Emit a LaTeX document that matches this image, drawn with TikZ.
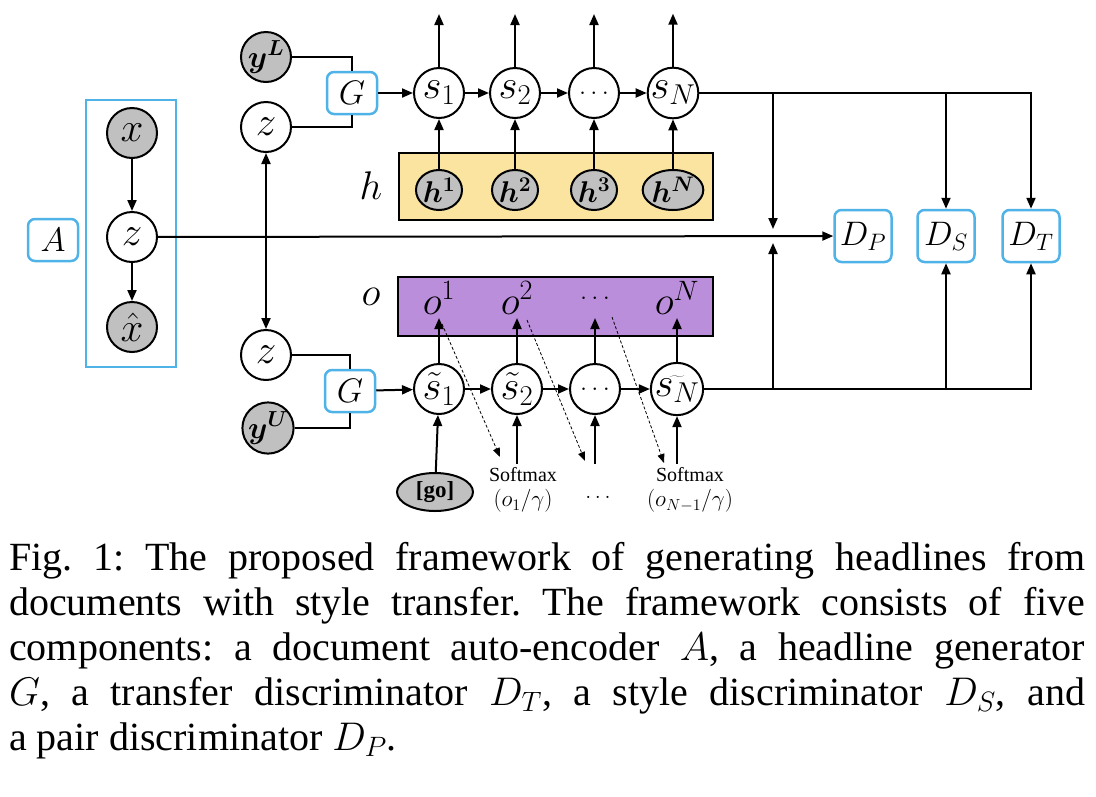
\RequirePackage{fix-cm}
\documentclass[tikz,border=0pt]{standalone}
\usepackage{fontspec}
\usepackage{bm}
\setmainfont{Liberation Serif}
\usetikzlibrary{arrows.meta,shapes.geometric}
\definecolor{modblue}{RGB}{79,179,232}
\definecolor{hyellow}{RGB}{250,228,160}
\definecolor{opurple}{RGB}{187,142,219}
\definecolor{obsgray}{RGB}{192,192,192}
\newcommand{\sdots}{{\fontsize{26}{28}\selectfont$\ldots$}}
\tikzset{
  latent/.style={circle,draw,line width=2pt,fill=white,minimum size=50pt,inner sep=0pt,font=\fontsize{41}{43}\selectfont},
  obs/.style={latent,fill=obsgray},
  module/.style={draw=modblue,line width=2.5pt,rounded corners=7pt,fill=white,minimum width=50pt,minimum height=42pt,inner sep=0pt,font=\fontsize{34}{36}\selectfont},
  hnode/.style={ellipse,draw,line width=2pt,fill=obsgray,minimum width=46pt,minimum height=40pt,inner sep=0pt,font=\fontsize{30}{32}\selectfont},
  lbl/.style={inner sep=1pt,font=\fontsize{40}{42}\selectfont},
  ln/.style={line width=2pt},
  arr/.style={line width=2pt,-{Triangle[length=11pt,width=9pt]}},
  darr/.style={line width=2pt,{Triangle[length=11pt,width=9pt]}-{Triangle[length=11pt,width=9pt]}},
  dasharr/.style={line width=0.8pt,densely dashed,-{Triangle[length=9pt,width=7pt]}},
}
\begin{document}
\begin{tikzpicture}[x=1pt,y=-1pt]
  \useasboundingbox (0,0) rectangle (1096,796);
  % auto-encoder
  \node[module] (A) at (53,240) {$A$};
  \draw[modblue,line width=2.5pt] (86,100) rectangle (176,367);
  \node[obs] (x) at (132,133) {$x$};
  \node[latent] (za) at (132,237) {$z$};
  \node[obs] (xh) at (132,327) {$\hat{x}$};
  \draw[arr] (x) -- (za);
  \draw[arr] (za) -- (xh);
  % upper generator
  \node[obs,font=\fontsize{31}{33}\selectfont] (yL) at (266,57) {$\bm{y^L}$};
  \node[latent] (zt) at (266,127) {$z$};
  \node[module] (Gt) at (352,93) {$G$};
  \draw[ln] (yL.east) -| (Gt.north);
  \draw[ln] (zt.east) -| (Gt.south);
  \draw[fill=hyellow,line width=1.5pt] (399,153) rectangle (713,220);
  \node[lbl] (hl) at (371,186) {$h$};
  \foreach \n/\x/\t in {1/439/$s_1$,2/515/$s_2$,3/594/\sdots,4/673/$s_N$} {
    \node[latent] (s\n) at (\x,93) {\t};
    \draw[arr] (s\n.north) -- ++(0,-53);
  }
  \foreach \n/\x/\t in {1/1,2/2,3/3,4/N} {
    \node[hnode] (h\n) at (s\n |- 0,190) {$\bm{h^{\t}}$};
    \draw[arr] (h\n) -- (s\n);
  }
  \draw[arr] (Gt) -- (s1);
  \draw[arr] (s1) -- (s2);
  \draw[arr] (s2) -- (s3);
  \draw[arr] (s3) -- (s4);
  % lower generator
  \node[latent] (zb) at (266,355) {$z$};
  \node[obs,font=\fontsize{31}{33}\selectfont] (yU) at (268,428) {$\bm{y^U}$};
  \node[module] (Gb) at (350,391) {$G$};
  \draw[ln] (zb.east) -| (Gb.north);
  \draw[ln] (yU.east) -| (Gb.south);
  \draw[darr] (zt) -- (zb);
  \draw[fill=opurple,line width=1.5pt] (398,277) rectangle (713,336);
  \node[lbl] (ol) at (371,297) {$o$};
  \foreach \n/\x/\t in {1/439/$\tilde{s}_1$,2/517/$\tilde{s}_2$,3/595/\sdots,4/677/$\widetilde{s_N}$} {
    \node[latent] (t\n) at (\x,389) {\t};
  }
  \foreach \n/\t in {1/$o^1$,2/$o^2$,3/\sdots,4/$o^N$} {
    \node[lbl] (o\n) at (t\n |- 0,298) {\t};
    \draw[arr] (t\n) -- (t\n |- 0,318);
  }
  \draw[arr] (Gb) -- (t1);
  \draw[arr] (t1) -- (t2);
  \draw[arr] (t2) -- (t3);
  \draw[arr] (t3) -- (t4);
  \node[hnode,minimum width=76pt,minimum height=38pt,font=\fontsize{23}{25}\selectfont\bfseries] (go) at (435,492) {[go]};
  \node[align=center,font=\fontsize{20}{25}\selectfont] (sm1) at (523,490) {Softmax\\\fontsize{23}{25}\selectfont$(o_1/\gamma)$};
  \node[font=\fontsize{22}{25}\selectfont] (sm2) at (598,497) {$\ldots$};
  \node[align=center,font=\fontsize{20}{25}\selectfont] (sm3) at (690,490) {Softmax\\\fontsize{23}{25}\selectfont$(o_{N-1}/\gamma)$};
  \draw[arr] (go) -- (t1);
  \draw[arr] (sm1.north -| t2) -- (t2);
  \draw[arr] (sm1.north -| t3) -- (t3);
  \draw[arr] (sm3.north -| t4) -- (t4);
  \coordinate (d1) at (500,457);
  \coordinate (d2) at (585,461);
  \coordinate (d3) at (664,463);
  \draw[dasharr] (442,324) -- (d1);
  \draw[dasharr] (527,320) -- (d2);
  \draw[dasharr] (612,317) -- (d3);
  % discriminators
  \node[module,minimum width=57pt,minimum height=52pt] (DP) at (863,236) {$D_P$};
  \node[module,minimum width=57pt,minimum height=52pt] (DS) at (946,236) {$D_S$};
  \node[module,minimum width=57pt,minimum height=52pt] (DT) at (1031,236) {$D_T$};
  \draw[arr] (za) -- (DP);
  \coordinate (jt) at (773,93);
  \coordinate (jb) at (773,389);
  \coordinate (jm) at (773,236);
  \draw[arr] (s4) -| (DT);
  \draw[arr] (s4 -| DS) -- (DS);
  \draw[arr,shorten >=7pt] (jt) -- (jm);
  \draw[arr] (t4) -| (DT);
  \draw[arr] (t4 -| DS) -- (DS);
  \draw[arr,shorten >=7pt] (jb) -- (jm);
  % caption
  \node[anchor=north west,text width=1076pt,align=justify,inner sep=0pt,font=\fontsize{40}{45}\selectfont] (cap) at (9,542) {\frenchspacing\parindent=0pt\rightskip=0pt\parfillskip=0pt
    Fig. 1: The proposed framework of generating headlines from\par
    documents with style transfer. The framework consists of five\par
    components: a document auto-encoder $A$, a headline generator\par
    $G$, a transfer discriminator $D_T$, a style discriminator $D_S$, and\par
    \parfillskip=0pt plus 1fil a pair discriminator $D_P$.\par};
\end{tikzpicture}
\end{document}
